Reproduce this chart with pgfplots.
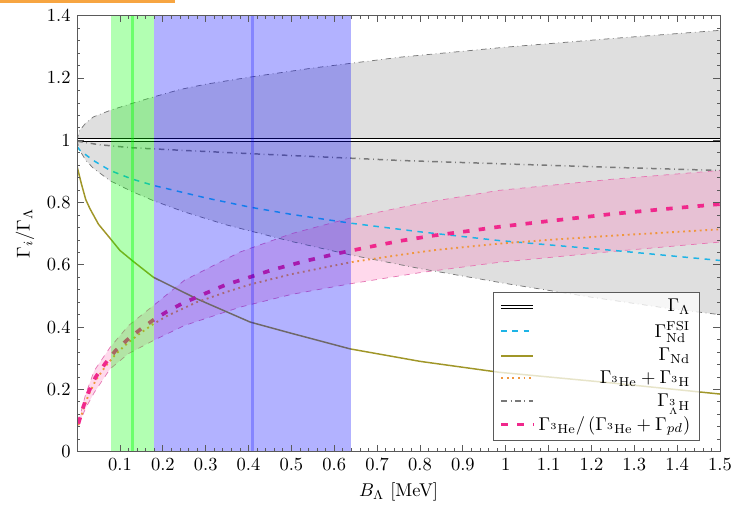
\documentclass[border=0pt]{standalone}
\usepackage{pgfplots}
\pgfplotsset{compat=1.18}
\usepgfplotslibrary{fillbetween}
\definecolor{orangebar}{RGB}{247,165,65}
\definecolor{pinkline}{RGB}{240,40,140}
\definecolor{pinkband}{RGB}{255,105,180}
\definecolor{pinkedge}{RGB}{230,120,180}
\definecolor{cyanline}{RGB}{30,180,230}
\definecolor{oliveline}{RGB}{160,150,40}
\definecolor{orangeline}{RGB}{240,150,60}
\definecolor{axisgray}{RGB}{90,90,90}
\definecolor{ddgray}{RGB}{120,120,120}
\begin{document}
\begin{tikzpicture}
\begin{axis}[
  at={(0pt,0pt)}, anchor=south west,
  scale only axis, width=347.6pt, height=235.7pt,
  xmin=0, xmax=1.5, ymin=0, ymax=1.4,
  xtick={0.1,0.2,0.3,0.4,0.5,0.6,0.7,0.8,0.9,1.0,1.1,1.2,1.3,1.4,1.5},
  ytick={0,0.2,0.4,0.6,0.8,1.0,1.2,1.4},
  minor x tick num=4, minor y tick num=4,
  xtick pos=both, ytick pos=both, tick align=inside,
  major tick length=3.6pt, minor tick length=1.8pt,
  axis line style={axisgray},
  tick style={axisgray, line width=0.4pt},
  xlabel={$B_\Lambda$ [MeV]},
  ylabel={$\Gamma_i/\Gamma_\Lambda$},
  legend style={at={(0.9686,0.0252)}, anchor=south east, fill=white, fill opacity=0.75, text opacity=1, draw=axisgray, draw opacity=1},
  legend cell align=right,
  axis on top,
]
% gray band
\addplot[name path=gu, draw=ddgray, dash dot, line width=0.4pt, forget plot] coordinates {
(0,1.0) (0.005,1.03) (0.02,1.055) (0.038,1.075) (0.077,1.096) (0.127,1.118) (0.178,1.139) (0.24,1.163) (0.3,1.18) (0.404,1.203) (0.55,1.232) (0.755,1.267) (1.0,1.299) (1.25,1.327) (1.5,1.353)};
\addplot[name path=gl, draw=ddgray, dash dot, line width=0.4pt, forget plot] coordinates {
(0,1.0) (0.005,0.97) (0.02,0.936) (0.038,0.91) (0.077,0.87) (0.127,0.836) (0.178,0.806) (0.25,0.77) (0.349,0.728) (0.5,0.675) (0.637,0.632) (0.8,0.588) (1.0,0.54) (1.2,0.496) (1.385,0.459) (1.5,0.44)};
\addplot[gray!25, forget plot] fill between[of=gu and gl];
% pink band
\addplot[name path=pu, draw=pinkedge, dashed, line width=0.4pt, forget plot] coordinates {
(0.003,0.095) (0.02,0.185) (0.04,0.26) (0.077,0.335) (0.12,0.405) (0.178,0.469) (0.25,0.55) (0.38,0.641) (0.5,0.7) (0.637,0.75) (0.8,0.797) (0.984,0.839) (1.25,0.875) (1.5,0.903)};
\addplot[name path=pl, draw=pinkedge, dashed, line width=0.4pt, forget plot] coordinates {
(0.003,0.085) (0.02,0.14) (0.04,0.19) (0.077,0.266) (0.12,0.315) (0.178,0.357) (0.25,0.405) (0.38,0.464) (0.5,0.505) (0.637,0.539) (0.8,0.575) (0.984,0.608) (1.25,0.643) (1.5,0.673)};
\addplot[pinkband, fill opacity=0.25, forget plot] fill between[of=pu and pl];
% curves
\addplot[draw=black, line width=0.5pt, double=white, double distance=1.2pt] coordinates {(0,1) (1.5,1)};
\addlegendentry{$\Gamma_\Lambda$}
\addplot[draw=cyanline, dashed, line width=0.8pt,
  legend image code/.code={\draw[draw=cyanline, dashed, line width=0.9pt] (0cm,0cm) -- (0.6cm,0cm);}] coordinates {
(0,0.98) (0.007,0.967) (0.038,0.935) (0.077,0.903) (0.127,0.876) (0.178,0.855) (0.3,0.815) (0.404,0.785) (0.5,0.762) (0.637,0.734) (0.8,0.706) (0.984,0.678) (1.253,0.646) (1.5,0.614)};
\addlegendentry{$\Gamma_{\mathrm{Nd}}^{\mathrm{FSI}}$}
\addplot[draw=oliveline, line width=0.8pt,
  legend image code/.code={\draw[draw=oliveline, line width=1.1pt] (0cm,0cm) -- (0.6cm,0cm);}] coordinates {
(0,0.915) (0.01,0.86) (0.02,0.81) (0.03,0.78) (0.05,0.73) (0.077,0.685) (0.1,0.646) (0.13,0.612) (0.178,0.56) (0.279,0.491) (0.404,0.416) (0.5,0.38) (0.637,0.33) (0.8,0.29) (0.984,0.255) (1.237,0.222) (1.5,0.185)};
\addlegendentry{$\Gamma_{\mathrm{Nd}}$}
\addplot[draw=orangeline, dotted, line width=1pt] coordinates {
(0.003,0.085) (0.014,0.135) (0.026,0.18) (0.043,0.228) (0.065,0.272) (0.09,0.313) (0.117,0.348) (0.147,0.38) (0.178,0.41) (0.21,0.436) (0.279,0.48) (0.349,0.513) (0.404,0.537) (0.5,0.57) (0.637,0.608) (0.754,0.632) (0.832,0.647) (0.984,0.668) (1.1,0.68) (1.253,0.694) (1.378,0.704) (1.5,0.714)};
\addlegendentry{$\Gamma_{^3\mathrm{He}}+\Gamma_{^3\mathrm{H}}$}
\addplot[draw=ddgray, dash dot, line width=0.8pt] coordinates {
(0,0.997) (0.05,0.986) (0.127,0.976) (0.24,0.968) (0.404,0.957) (0.661,0.941) (0.755,0.935) (1.0,0.924) (1.25,0.913) (1.5,0.903)};
\addlegendentry{$\Gamma_{^3_\Lambda\mathrm{H}}$}
\addplot[draw=pinkline, line width=2pt, dash pattern=on 3.5pt off 5pt] coordinates {
(0.003,0.09) (0.014,0.142) (0.026,0.19) (0.043,0.239) (0.065,0.282) (0.09,0.325) (0.117,0.359) (0.147,0.392) (0.178,0.423) (0.21,0.45) (0.244,0.475) (0.279,0.496) (0.314,0.517) (0.349,0.537) (0.386,0.553) (0.458,0.585) (0.532,0.612) (0.606,0.636) (0.68,0.657) (0.754,0.677) (0.832,0.694) (0.91,0.708) (0.984,0.722) (1.097,0.74) (1.253,0.764) (1.378,0.78) (1.5,0.795)};
\addlegendentry{$\Gamma_{^3\mathrm{He}}/\left(\Gamma_{^3\mathrm{He}}+\Gamma_{pd}\right)$}
% vertical bands
\addplot[draw=none, fill=blue, fill opacity=0.3, forget plot] coordinates {(0.18,1.4) (0.64,1.4)} \closedcycle;
\addplot[draw=none, fill=green, fill opacity=0.3, forget plot] coordinates {(0.08,1.4) (0.18,1.4)} \closedcycle;
\addplot[draw=blue, opacity=0.25, line width=1.5pt, forget plot] coordinates {(0.41,0) (0.41,1.4)};
\addplot[draw=green, opacity=0.4, line width=1.5pt, forget plot] coordinates {(0.13,0) (0.13,1.4)};
\end{axis}
\fill[orangebar] (-41.7pt,242.7pt) rectangle (52.9pt,244.2pt);
\path (-41.7pt,-28.1pt) rectangle (358.4pt,244.2pt);
\end{tikzpicture}
\end{document}
